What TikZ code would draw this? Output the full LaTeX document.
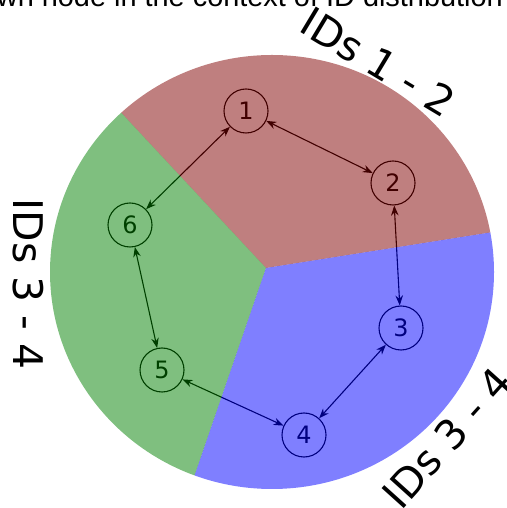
\documentclass[tikz,border=0pt]{standalone}
\usepackage{fontspec}
\setmainfont{DejaVu Sans}
\newfontfamily\capfont{Liberation Sans}
\usepackage{tikz}
\usetikzlibrary{arrows.meta}

\definecolor{sectred}{HTML}{800000}
\definecolor{sectgreen}{HTML}{008000}
\definecolor{sectblue}{HTML}{0000FF}

\begin{document}
\begin{tikzpicture}[x=1bp, y=1bp,
  idnode/.style={circle, draw, line width=1.1bp, minimum size=44bp, inner sep=0pt, font=\fontsize{24}{24}\selectfont},
  link/.style={{Stealth[length=10bp,width=7.5bp]}-{Stealth[length=10bp,width=7.5bp]}, line width=1.1bp},
  idlabel/.style={font=\fontsize{41}{41}\selectfont, inner sep=0pt}]
\useasboundingbox (0,0) rectangle (507,508);
\clip (0,0) rectangle (507,508);

% Caption line
\node[anchor=base east, inner sep=0pt, font=\capfont\fontsize{29}{29}\selectfont] (caption) at (503,501) {wn node in the context of ID distribution};

% Ring nodes
\foreach \i/\x/\y in {1/246/397, 2/393/325, 3/401/180, 4/304/73, 5/162/138, 6/130/283}{
  \node[idnode] (n\i) at (\x,\y) {\i};
}

% Links
\foreach \a/\b in {1/2, 2/3, 3/4, 4/5, 5/6, 6/1}{
  \draw[link] (n\a) -- (n\b);
}

% Sectors, laid over the ring
\coordinate (pc) at (266,240);
\begin{scope}
  \clip (272,236) ellipse [x radius=222, y radius=217];
  \fill[sectred, fill opacity=0.5] (pc) -- +(9:400) arc[start angle=9, end angle=133, radius=400] -- cycle;
  \fill[sectgreen, fill opacity=0.5] (pc) -- +(133:400) arc[start angle=133, end angle=251, radius=400] -- cycle;
  \fill[sectblue, fill opacity=0.5] (pc) -- +(251:400) arc[start angle=251, end angle=369, radius=400] -- cycle;
\end{scope}

% Sector labels
\node[idlabel, rotate=-31] (topid) at (378,446) {IDs 1 - 2};
\node[idlabel, rotate=-90] (leftid) at (28,224) {IDs 3 - 4};
\node[idlabel, rotate=48] (lowid) at (447,70) {IDs 3 - 4};
\end{tikzpicture}
\end{document}
